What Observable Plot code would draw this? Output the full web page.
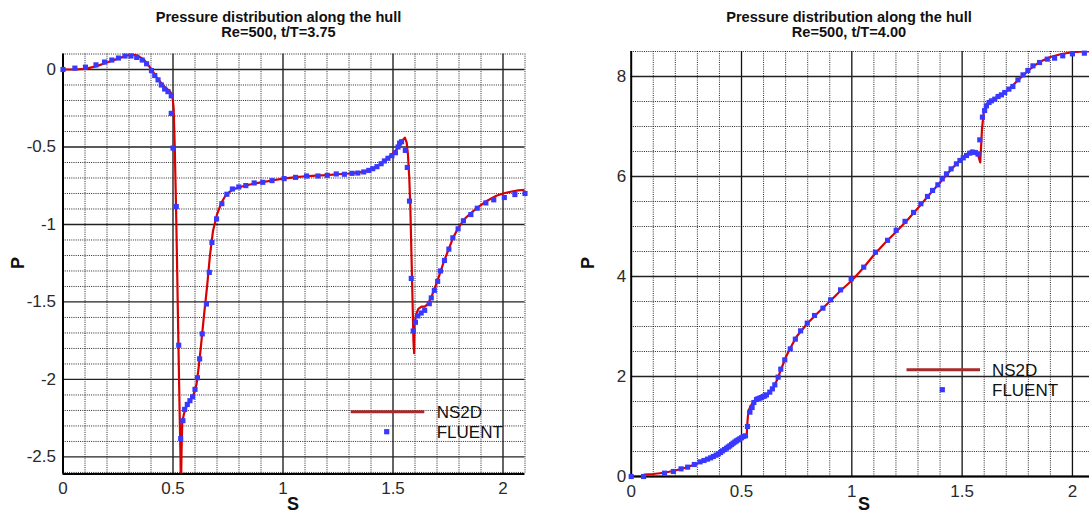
<!DOCTYPE html>
<html>
<head>
<meta charset="utf-8">
<script src="https://cdn.jsdelivr.net/npm/d3@7"></script>
<script src="https://cdn.jsdelivr.net/npm/@observablehq/plot@0.6"></script>
<style>
  html, body { margin: 0; padding: 0; background: #fff; overflow: hidden; width: 1089px; height: 515px; }
  #wrap { position: relative; width: 1089px; height: 515px; overflow: hidden; }
  .panel { position: absolute; top: 0; height: 515px; }
  .panel svg { max-width: none !important; display: block; }
  #overlay { position: absolute; left: 0; top: 0; pointer-events: none; }
</style>
</head>
<body>
<div id="wrap">
  <div id="left" class="panel" style="left:0; width:545px"></div>
  <div id="right" class="panel" style="left:545px; width:560px"></div>
  <svg id="overlay" width="1089" height="515"></svg>
</div>
<script>
// ---------- DATA ----------
const titleLine1 = "Pressure distribution along the hull";
const subtitleLeft = "Re=500, t/T=3.75";
const subtitleRight = "Re=500, t/T=4.00";
const xLabel = "S";
const yLabel = "P";
const seriesNames = ["NS2D", "FLUENT"];

const xTicks = [0, 0.5, 1, 1.5, 2];
const yTicksLeft = [0, -0.5, -1, -1.5, -2, -2.5];
const yTicksRight = [0, 2, 4, 6, 8];

// t/T = 3.75 : NS2D curve [S, P]
const ns2dLeft = [
  [0,0],[0.05,0.0],[0.1,0.004],[0.15,0.02],[0.2,0.045],[0.25,0.07],[0.29,0.09],[0.315,0.098],
  [0.34,0.09],[0.37,0.06],[0.40,0.005],[0.43,-0.06],[0.46,-0.11],[0.485,-0.14],[0.497,-0.165],
  [0.503,-0.25],[0.508,-0.5],[0.514,-0.9],[0.519,-1.3],[0.525,-1.8],[0.53,-2.2],[0.534,-2.5],[0.536,-2.75],
  [0.539,-2.45],[0.542,-2.28],[0.55,-2.22],[0.565,-2.16],[0.58,-2.13],[0.595,-2.09],[0.607,-2.03],
  [0.616,-1.93],[0.626,-1.8],[0.64,-1.6],[0.655,-1.4],[0.668,-1.2],[0.682,-1.04],[0.70,-0.935],
  [0.72,-0.86],[0.74,-0.81],[0.77,-0.775],[0.80,-0.76],[0.85,-0.742],[0.9,-0.728],[0.95,-0.716],
  [1.0,-0.704],[1.05,-0.696],[1.1,-0.689],[1.15,-0.685],[1.2,-0.681],[1.25,-0.676],[1.3,-0.671],
  [1.35,-0.664],[1.39,-0.652],[1.42,-0.632],[1.45,-0.603],[1.48,-0.566],[1.51,-0.527],[1.53,-0.49],
  [1.545,-0.455],[1.554,-0.44],[1.562,-0.47],[1.568,-0.55],[1.574,-0.7],[1.579,-0.9],[1.584,-1.2],
  [1.589,-1.5],[1.593,-1.75],[1.596,-1.83],[1.598,-1.65],[1.605,-1.58],[1.615,-1.545],[1.63,-1.53],
  [1.645,-1.53],[1.66,-1.51],[1.675,-1.465],[1.69,-1.41],[1.71,-1.33],[1.73,-1.245],[1.75,-1.17],
  [1.775,-1.08],[1.80,-1.015],[1.825,-0.965],[1.855,-0.925],[1.89,-0.885],[1.93,-0.845],
  [1.97,-0.815],[2.0,-0.80],[2.04,-0.787],[2.07,-0.78],[2.1,-0.776]
];

// t/T = 3.75 : FLUENT points [S, P]
const fluentLeft = [
  [0,0],[0.054,0.009],[0.102,0.015],[0.150,0.030],[0.189,0.048],[0.222,0.061],[0.252,0.074],
  [0.282,0.087],[0.309,0.087],[0.335,0.078],[0.360,0.061],[0.380,0.037],[0.402,-0.007],
  [0.417,-0.039],[0.432,-0.067],[0.447,-0.100],[0.462,-0.126],[0.477,-0.143],[0.492,-0.170],
  [0.492,-0.283],[0.500,-0.507],[0.515,-0.884],[0.526,-1.779],[0.535,-2.382],[0.545,-2.266],
  [0.553,-2.193],[0.565,-2.161],[0.577,-2.137],[0.589,-2.112],[0.600,-2.064],[0.611,-1.989],
  [0.621,-1.867],[0.633,-1.706],[0.652,-1.513],[0.665,-1.309],[0.677,-1.116],[0.698,-0.964],
  [0.722,-0.866],[0.745,-0.805],[0.770,-0.771],[0.799,-0.758],[0.831,-0.749],[0.869,-0.732],
  [0.908,-0.728],[0.950,-0.717],[1.005,-0.704],[1.057,-0.696],[1.107,-0.687],[1.159,-0.687],
  [1.201,-0.683],[1.242,-0.674],[1.279,-0.676],[1.314,-0.670],[1.340,-0.668],[1.367,-0.661],
  [1.390,-0.651],[1.408,-0.640],[1.427,-0.627],[1.446,-0.608],[1.461,-0.590],[1.477,-0.573],
  [1.495,-0.556],[1.511,-0.537],[1.523,-0.500],[1.530,-0.475],[1.539,-0.466],[1.556,-0.522],
  [1.565,-0.632],[1.575,-0.849],[1.583,-1.348],[1.592,-1.687],[1.602,-1.631],[1.613,-1.590],
  [1.628,-1.571],[1.644,-1.554],[1.665,-1.511],[1.674,-1.474],[1.688,-1.425],[1.703,-1.367],
  [1.716,-1.300],[1.734,-1.232],[1.754,-1.159],[1.772,-1.086],[1.796,-1.028],[1.820,-0.976],
  [1.854,-0.936],[1.883,-0.895],[1.922,-0.861],[1.958,-0.841],[2.006,-0.826],[2.054,-0.807],
  [2.100,-0.800]
];

// t/T = 4.00 : NS2D curve [S, P]
const ns2dRight = [
  [0,0],[0.05,0.005],[0.06,0.04],[0.1,0.05],[0.15,0.075],[0.2,0.12],[0.25,0.18],[0.3,0.26],
  [0.35,0.35],[0.4,0.46],[0.45,0.6],[0.5,0.75],[0.52,0.8],[0.524,0.85],[0.527,1.1],[0.531,1.3],
  [0.54,1.4],[0.55,1.47],[0.565,1.53],[0.58,1.57],[0.6,1.6],[0.62,1.65],[0.64,1.75],[0.66,1.92],
  [0.68,2.15],[0.7,2.38],[0.72,2.56],[0.75,2.8],[0.8,3.07],[0.85,3.29],[0.9,3.5],[0.95,3.72],
  [1.0,3.92],[1.05,4.16],[1.1,4.43],[1.15,4.67],[1.2,4.89],[1.25,5.12],[1.3,5.37],[1.35,5.63],
  [1.4,5.88],[1.45,6.14],[1.5,6.37],[1.53,6.48],[1.545,6.52],[1.56,6.5],[1.572,6.44],[1.582,6.28],
  [1.586,6.6],[1.59,6.95],[1.597,7.25],[1.607,7.42],[1.625,7.51],[1.66,7.59],[1.7,7.7],
  [1.75,7.91],[1.8,8.12],[1.85,8.29],[1.9,8.39],[1.95,8.45],[2.0,8.485],[2.05,8.5],[2.1,8.5]
];

// t/T = 4.00 : FLUENT points [S, P]
const fluentRight = [
  [0,0],[0.056,0],[0.151,0.067],[0.191,0.1],[0.226,0.153],[0.256,0.187],[0.286,0.24],[0.312,0.293],
  [0.33,0.32],[0.346,0.347],[0.36,0.373],[0.372,0.4],[0.385,0.427],[0.395,0.453],[0.405,0.48],
  [0.414,0.513],[0.423,0.54],[0.432,0.567],[0.44,0.59],[0.447,0.613],[0.455,0.64],[0.462,0.667],
  [0.47,0.69],[0.477,0.713],[0.485,0.733],[0.492,0.753],[0.5,0.775],[0.508,0.8],[0.518,0.813],
  [0.527,1.0],[0.538,1.287],[0.548,1.38],[0.556,1.48],[0.568,1.54],[0.575,1.555],[0.583,1.567],
  [0.59,1.58],[0.598,1.6],[0.605,1.61],[0.613,1.633],[0.628,1.687],[0.640,1.753],[0.651,1.833],
  [0.666,1.987],[0.678,2.147],[0.696,2.333],[0.721,2.553],[0.744,2.747],[0.768,2.913],
  [0.798,3.067],[0.831,3.22],[0.869,3.367],[0.904,3.533],[0.949,3.733],[0.997,3.953],
  [1.054,4.187],[1.107,4.485],[1.162,4.724],[1.201,4.924],[1.241,5.103],[1.280,5.282],
  [1.313,5.455],[1.343,5.601],[1.366,5.721],[1.390,5.834],[1.410,5.953],[1.429,6.053],
  [1.450,6.153],[1.474,6.253],[1.49,6.32],[1.505,6.373],[1.52,6.42],[1.535,6.467],[1.547,6.487],
  [1.56,6.48],[1.572,6.447],[1.580,6.733],[1.592,7.187],[1.602,7.32],[1.610,7.413],[1.622,7.48],
  [1.633,7.513],[1.648,7.547],[1.663,7.6],[1.678,7.633],[1.693,7.68],[1.712,7.747],[1.730,7.8],
  [1.753,7.933],[1.776,8.033],[1.798,8.12],[1.821,8.213],[1.851,8.28],[1.886,8.347],
  [1.919,8.367],[1.956,8.413],[2.0,8.453],[2.054,8.467]
];

// ---------- STYLE ----------
const FONT = "'Liberation Sans', Arial, Helvetica, sans-serif";
const RED = "#d80000";
const BLUE = "#3838ff";
const round = v => Math.round(v * 1000) / 1000;

function panel({xDomain, yDomain, yTicks, xMinorStep, yMinorStep, width, margins, tickPadY}) {
  const xMinor = d3.range(0, xDomain[1] + 1e-9, xMinorStep).map(round).filter(v => !xTicks.includes(v) && v > 0);
  const yStart = Math.ceil(yDomain[0] / yMinorStep) * yMinorStep;
  const yMinor = d3.range(yStart, yDomain[1] + 1e-9, yMinorStep).map(round).filter(v => !yTicks.includes(v));
  const xMajor = xTicks.filter(v => v > 0);
  return {
    width, height: 515,
    marginLeft: margins[0], marginRight: margins[1], marginTop: margins[2], marginBottom: margins[3],
    x: {domain: xDomain},
    y: {domain: yDomain},
    style: {fontFamily: FONT, fontSize: "17px", color: "#2a2a2a", background: "transparent", overflow: "visible", maxWidth: "none"},
    xMinor, yMinor, xMajor, yTicks, tickPadY
  };
}

function draw(el, cfg, curve, points) {
  const chart = Plot.plot({
    width: cfg.width, height: cfg.height,
    marginLeft: cfg.marginLeft, marginRight: cfg.marginRight,
    marginTop: cfg.marginTop, marginBottom: cfg.marginBottom,
    x: cfg.x, y: cfg.y, style: cfg.style,
    marks: [
      Plot.ruleX(cfg.xMinor, {stroke: "#000", strokeWidth: 1, strokeDasharray: "1,1.2", strokeOpacity: 0.85}),
      Plot.ruleY(cfg.yMinor, {stroke: "#000", strokeWidth: 1, strokeDasharray: "1,1.2", strokeOpacity: 0.85}),
      Plot.ruleX(cfg.xMajor, {stroke: "#111", strokeWidth: 1.3}),
      Plot.ruleY(cfg.yTicks, {stroke: "#222", strokeWidth: 1.3}),
      Plot.axisX({ticks: xTicks, tickFormat: d => String(d), tickSize: 0, tickPadding: 8, label: null, fontSize: 17}),
      Plot.axisY({ticks: cfg.yTicks, tickFormat: d => String(d), tickSize: 0, tickPadding: cfg.tickPadY, label: null, fontSize: 17}),
      Plot.ruleX([cfg.x.domain[0]], {stroke: "#000", strokeWidth: 2}),
      Plot.ruleY([cfg.y.domain[0]], {stroke: "#000", strokeWidth: 2.2}),
      Plot.line(curve, {x: d => d[0], y: d => d[1], stroke: RED, strokeWidth: 2.2, clip: true}),
      Plot.dot(points, {x: d => d[0], y: d => d[1], symbol: "square", r: 2.9, fill: BLUE, stroke: "none"})
    ]
  });
  chart.style.maxWidth = "none";
  el.appendChild(chart);
}

const cfgL = panel({xDomain: [0, 2.1], yDomain: [-2.61, 0.1], yTicks: yTicksLeft, xMinorStep: 0.1, yMinorStep: 0.1,
  width: 545, margins: [62.5, 20.5, 53.5, 41.5], tickPadY: 7});
draw(document.getElementById("left"), cfgL, ns2dLeft, fluentLeft);

const cfgR = panel({xDomain: [0, 2.1], yDomain: [0, 8.5], yTicks: yTicksRight, xMinorStep: 0.1, yMinorStep: 0.5,
  width: 560, margins: [85.7, 11, 51, 39], tickPadY: 5});
draw(document.getElementById("right"), cfgR, ns2dRight, fluentRight);

// ---------- TITLES, AXIS LABELS, LEGENDS ----------
const ov = d3.select("#overlay");
function title(cx, sub) {
  ov.append("text").attr("x", cx).attr("y", 21.5).attr("text-anchor", "middle")
    .attr("font-family", FONT).attr("font-weight", "bold").attr("font-size", 14.6).attr("fill", "#111").text(titleLine1);
  ov.append("text").attr("x", cx).attr("y", 37).attr("text-anchor", "middle")
    .attr("font-family", FONT).attr("font-weight", "bold").attr("font-size", 14.6).attr("fill", "#111").text(sub);
}
title(278.5, subtitleLeft);
title(849, subtitleRight);

function axisLabels(sx, px) {
  ov.append("text").attr("x", sx).attr("y", 510).attr("text-anchor", "middle")
    .attr("font-family", FONT).attr("font-weight", "bold").attr("font-size", 18).attr("fill", "#111").text(xLabel);
  ov.append("text").attr("transform", `translate(${px},263) rotate(-90)`).attr("text-anchor", "middle")
    .attr("font-family", FONT).attr("font-weight", "bold").attr("font-size", 18).attr("fill", "#111").text(yLabel);
}
axisLabels(293, 24);
axisLabels(864, 594);

function legend(x1, x2, y, tx, px) {
  ov.append("line").attr("x1", x1).attr("x2", x2).attr("y1", y).attr("y2", y)
    .attr("stroke", "#a82a2a").attr("stroke-width", 3);
  ov.append("rect").attr("x", px - 2.6).attr("y", y + 20 - 2.6).attr("width", 5.2).attr("height", 5.2).attr("fill", BLUE);
  seriesNames.forEach((n, i) => {
    ov.append("text").attr("x", tx).attr("y", y + i * 20).attr("dy", "0.36em")
      .attr("font-family", FONT).attr("font-size", 17).attr("fill", "#111").text(n);
  });
}
legend(350.7, 424.3, 411.7, 436.7, 386.7);
legend(906.5, 980, 369.7, 992, 942.3);
</script>
</body>
</html>
